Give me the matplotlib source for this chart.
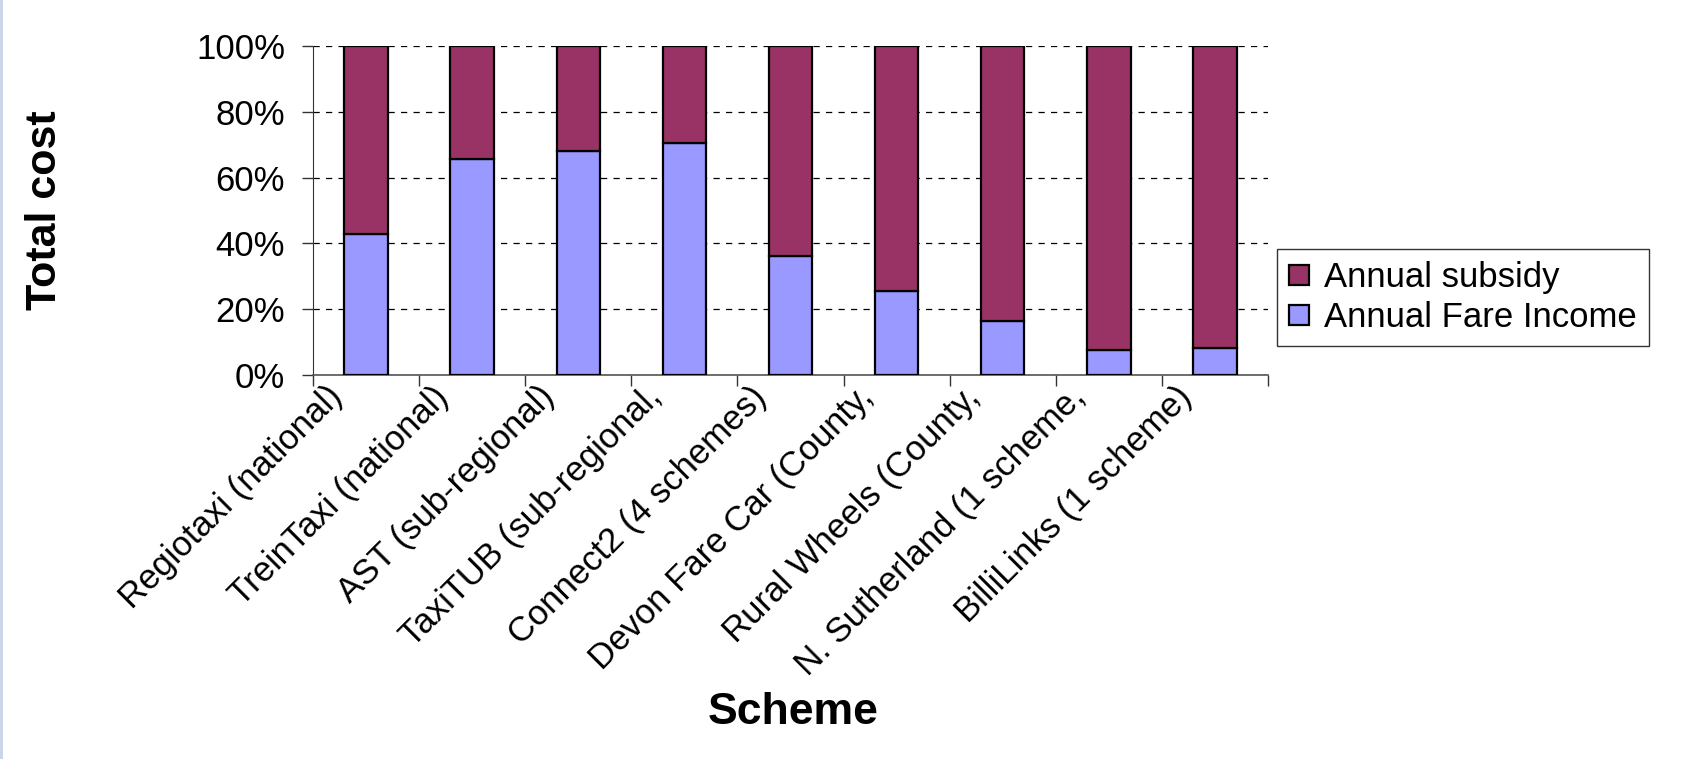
import numpy as np
import matplotlib
matplotlib.use('Agg')
import matplotlib.pyplot as plt
from matplotlib.patches import Rectangle
from matplotlib.ticker import FixedLocator, PercentFormatter
from matplotlib.transforms import ScaledTranslation

# ── Data ──────────────────────────────────────────────────────────────────────
schemes = [
    'Regiotaxi (national)',
    'TreinTaxi (national)',
    'AST (sub-regional)',
    'TaxiTUB (sub-regional,',
    'Connect2 (4 schemes)',
    'Devon Fare Car (County,',
    'Rural Wheels (County,',
    'N. Sutherland (1 scheme,',
    'BilliLinks (1 scheme)',
]
fare_income = [42.9, 65.8, 68.2, 70.5, 36.2, 25.5, 16.4, 7.5, 8.0]   # % of total cost
subsidy = [100 - v for v in fare_income]
yticks = [0, 20, 40, 60, 80, 100]

FARE_COLOR = '#9999ff'
SUBSIDY_COLOR = '#993366'

plt.rcParams['font.family'] = ['Liberation Sans', 'DejaVu Sans']

# ── Figure ────────────────────────────────────────────────────────────────────
W, H = 1688, 759
fig = plt.figure(figsize=(W / 100, H / 100), dpi=100)
fig.patch.set_facecolor('white')

# slide edge strip on the left
fig.patches.append(Rectangle((0, 0), 3 / W, 1, transform=fig.transFigure,
                             facecolor='#ccd6ea', edgecolor='none'))

ax = fig.add_axes([313 / W, 1 - 374.6 / H, (1268 - 313) / W, (374.6 - 46.3) / H])

x = np.arange(len(schemes))
ax.bar(x, fare_income, width=0.41, color=FARE_COLOR, edgecolor='black',
       linewidth=1.6, label='Annual Fare Income', zorder=3)
ax.bar(x, subsidy, width=0.41, bottom=fare_income, color=SUBSIDY_COLOR,
       edgecolor='black', linewidth=1.6, label='Annual subsidy', zorder=3)

ax.set_xlim(-0.5, len(schemes) - 0.5)
ax.set_ylim(0, 100)

# y axis
ax.set_yticks(yticks)
ax.yaxis.set_major_formatter(PercentFormatter(decimals=0))
ax.tick_params(axis='y', length=8, width=1, color='#333333', pad=12, labelsize=25)
ax.grid(axis='y', color='black', linestyle=(0, (5, 5)), linewidth=0.9, zorder=1)

# x axis: ticks between categories, labels at centres
ax.set_xticks(x)
ax.set_xticklabels(schemes, rotation=45, ha='right', va='top', fontsize=25)
ax.xaxis.set_minor_locator(FixedLocator(np.arange(-0.5, len(schemes), 1.0)))
ax.tick_params(axis='x', which='major', length=0, pad=4)
ax.tick_params(axis='x', which='minor', length=8, width=1, color='#333333')
shift = ScaledTranslation(-17 / 100, 0, fig.dpi_scale_trans)
for lbl in ax.get_xticklabels():
    lbl.set_transform(lbl.get_transform() + shift)

for side in ('top', 'right'):
    ax.spines[side].set_visible(False)
ax.spines['left'].set_color('#333333')
ax.spines['bottom'].set_color('#555555')
ax.spines['bottom'].set_linewidth(1.2)

# axis titles
fig.text(45 / W, 1 - 210 / H, 'Total cost', rotation=90, ha='center', va='center',
         fontsize=31, fontweight='bold')
fig.text(793 / W, 1 - 713 / H, 'Scheme', ha='center', va='center',
         fontsize=32, fontweight='bold')

# legend (subsidy on top)
handles, labels = ax.get_legend_handles_labels()
leg = fig.legend(handles[::-1], labels[::-1], loc='upper left',
                 bbox_to_anchor=(1277 / W, 1 - 249 / H),
                 fontsize=25, frameon=True, fancybox=False, edgecolor='black',
                 handlelength=0.58, handleheight=0.52, handletextpad=0.42,
                 borderpad=0.35, labelspacing=0.2, borderaxespad=0)
leg.get_frame().set_linewidth(1.0)

fig.savefig('out.png', dpi=100)
